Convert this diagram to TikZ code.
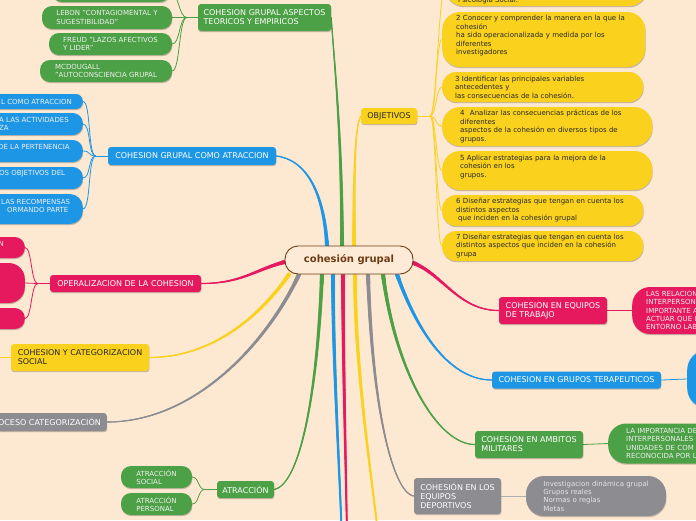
\documentclass[tikz,border=0pt]{standalone}
\usepackage{fontspec}
\setmainfont{DejaVu Sans}
\usetikzlibrary{decorations.markings,shadows}
\pgfdeclarelayer{bg}
\pgfsetlayers{bg,main}
\definecolor{bgc}{HTML}{FDE8D2}
\definecolor{gr}{HTML}{4CA045}
\definecolor{bl}{HTML}{1E96E6}
\definecolor{mg}{HTML}{E6195F}
\definecolor{ye}{HTML}{FAD21E}
\definecolor{gy}{HTML}{8C8C91}
\definecolor{brn}{HTML}{6E3C14}
\definecolor{ctr}{HTML}{FDEBD7}
\begin{document}
\begin{tikzpicture}[x=1pt,y=-1pt,
  shad/.style={drop shadow={shadow xshift=0.4pt,shadow yshift=-1.2pt,opacity=0.22,fill=black}},
  tbox/.style={rounded corners=3pt,inner sep=0pt,align=left,text=white,font=\fontsize{8}{9}\selectfont,shad},
  pill/.style={rounded corners=10pt,inner sep=0pt,align=left,text=white!94!black,font=\fontsize{7}{8.2}\selectfont,shad},
  ptext/.style={inner sep=0pt,align=left,text=white!94!black,font=\fontsize{7}{8.2}\selectfont},
  ypill/.style={fill=ye,rounded corners=14pt,inner ysep=0pt,align=left,text=black!85,font=\fontsize{7}{8.5}\selectfont,shad},
  subl/.style={line width=0.8pt,draw=#1},
  branch/.style={line width=1.1pt,draw=#1,postaction={decorate,decoration={markings,
     mark=between positions 0 and 1 step 0.7pt with {%
       \pgfmathsetmacro\rr{0.55+1.5*(1-\pgfkeysvalueof{/pgf/decoration/mark info/distance from start}/\pgfdecoratedpathlength)}%
       \fill[#1] (0,0) circle[radius=\rr pt];}}}},
]
\useasboundingbox (0,0) rectangle (696,520);

% ---------- centre ----------
\node[rounded corners=13pt,fill=ctr,draw=brn,line width=0.9pt,minimum width=128pt,minimum height=28pt,
      inner sep=0pt,text=brn,font=\fontsize{10}{12}\selectfont\bfseries] (c) at (349,260) {cohesión grupal};

% ---------- left / top main nodes ----------
\node[tbox,fill=gr,minimum width=133pt,minimum height=27pt] (asp) at (264.5,17.5) {COHESION GRUPAL ASPECTOS\\TEORICOS Y EMPIRICOS};
\node[tbox,fill=bl,minimum width=168pt,minimum height=18pt] (gca) at (192,156) {COHESION GRUPAL COMO ATRACCION};
\node[tbox,fill=mg,minimum width=151pt,minimum height=17pt] (ope) at (125.5,283.5) {OPERALIZACION DE LA COHESION};
\node[tbox,fill=ye,text=black!85,minimum width=138pt,minimum height=27pt] (cat) at (80,357.5) {COHESION Y CATEGORIZACION\\SOCIAL};
\node[tbox,fill=gy,anchor=east,inner xsep=6pt,minimum height=18pt] (pro) at (107,422) {PROCESO CATEGORIZACIÓN};
\node[tbox,fill=gr,minimum width=57pt,minimum height=17pt] (atr) at (245.5,489.5) {ATRACCIÓN};
\node[tbox,fill=ye,text=black!85,minimum width=56pt,minimum height=16pt] (obj) at (389,116) {OBJETIVOS};

% ---------- right main nodes ----------
\node[tbox,fill=mg,minimum width=108pt,minimum height=27pt] (tra) at (553,310.5) {COHESION EN EQUIPOS\\DE TRABAJO};
\node[tbox,fill=bl,minimum width=169pt,minimum height=17pt] (ter) at (576.5,380) {COHESION EN GRUPOS TERAPEUTICOS};
\node[tbox,fill=gr,minimum width=108pt,minimum height=27pt] (mil) at (529,444.5) {COHESION EN AMBITOS\\MILITARES};
\node[tbox,fill=gy,minimum width=87pt,minimum height=36pt] (eqd) at (457.5,496) {COHESIÓN EN LOS\\EQUIPOS\\DEPORTIVOS};

% ---------- green children (aspects) ----------
\node[pill,fill=gr,minimum width=118pt,minimum height=22pt] (l0) at (111,-9) {};
\node[pill,fill=gr,minimum width=130pt,minimum height=23pt] (l1) at (107,17.5) {LEBON "CONTAGIOMENTAL Y\\SUGESTIBILIDAD"};
\node[pill,fill=gr,minimum width=123pt,minimum height=22pt] (l2) at (110.5,44) {FREUD "LAZOS AFECTIVOS\\Y LIDER"};
\node[pill,fill=gr,minimum width=132pt,minimum height=22pt] (l3) at (106,71) {MCDOUGALL\\"AUTOCONSCIENCIA GRUPAL};

% ---------- blue children (cut at left) ----------
\node[pill,fill=bl,anchor=east,rounded corners=7pt,minimum width=150pt,minimum height=15pt] (b1) at (83,101.5) {};
\node[ptext,anchor=west] (b1t) at (1,101.5) {L COMO ATRACCION};
\node[pill,fill=bl,anchor=east,minimum width=150pt,minimum height=22pt] (b2) at (83,124) {};
\node[ptext,anchor=west] (b2t) at (-1,124) {A LAS ACTIVIDADES\\ZA};
\node[pill,fill=bl,anchor=east,minimum width=150pt,minimum height=22pt] (b3) at (83,151) {};
\node[ptext,anchor=west] (b3t) at (-2,147) {DE LA PERTENENCIA};
\node[pill,fill=bl,anchor=east,minimum width=150pt,minimum height=22pt] (b4) at (83,178) {};
\node[ptext,anchor=west] (b4t) at (-1,174) {OS OBJETIVOS DEL};
\node[pill,fill=bl,anchor=east,rounded corners=13pt,minimum width=150pt,minimum height=30pt] (b5) at (83,209) {};
\node[ptext,anchor=west] (b5t) at (1,206) {LAS RECOMPENSAS\\\hspace*{6pt}ORMANDO PARTE};

% ---------- magenta children (cut at left) ----------
\node[pill,fill=mg,anchor=east,minimum width=80pt,minimum height=21pt] (m1) at (25,247.5) {};
\node[ptext,anchor=west] (m1t) at (-1.5,244) {N};
\node[pill,fill=mg,anchor=east,rounded corners=16pt,minimum width=80pt,minimum height=40pt] (m2) at (25,283) {};
\node[pill,fill=mg,anchor=east,minimum width=80pt,minimum height=21pt] (m3) at (25,318.5) {};

% ---------- atraccion children ----------
\node[pill,fill=gr,minimum width=71pt,minimum height=22pt] (as1) at (156.5,477) {ATRACCIÓN\\SOCIAL};
\node[pill,fill=gr,minimum width=71pt,minimum height=22pt] (as2) at (156.5,504) {ATRACCIÓN\\PERSONAL};

% ---------- objetivos children ----------
\node[ypill,rounded corners=18pt,anchor=west,minimum width=202pt,minimum height=36pt] (y0) at (445,-12) {};
\node[inner sep=0pt,anchor=west,text=black!85,font=\fontsize{7}{8.5}\selectfont] (y0t) at (458,0) {Psicología Social.};
\node[ypill,rounded corners=18pt,anchor=west,minimum height=55pt,inner xsep=14pt,text width=175pt] (y2) at (442,39.5)
  {2 Conocer y comprender la manera en la que la\\cohesión\\ha sido operacionalizada y medida por los\\diferentes\\investigadores\\\mbox{}};
\node[ypill,anchor=west,minimum height=30pt,inner xsep=13pt,text width=175pt] (y3) at (442,87)
  {3 Identificar las principales variables\\antecedentes y\\las consecuencias de la cohesión.};
\node[ypill,rounded corners=18pt,anchor=west,minimum height=39pt,inner xsep=18pt,text width=174pt] (y4) at (442,126.5)
  {4\hspace{3pt} Analizar las consecuencias prácticas de los\\diferentes\\aspectos de la cohesión en diversos tipos de\\grupos.};
\node[ypill,rounded corners=18pt,anchor=west,minimum height=39pt,inner xsep=18pt,text width=174pt] (y5) at (442,170.5)
  {5 Aplicar estrategias para la mejora de la\\cohesión en los\\grupos.\\\mbox{}};
\node[ypill,anchor=west,minimum height=31pt,inner xsep=14pt,text width=173pt] (y6) at (442,210.5)
  {6 Diseñar estrategias que tengan en cuenta los\\distintos aspectos\\\hspace*{2pt}que inciden en la cohesión grupal};
\node[ypill,anchor=west,minimum height=30pt,inner xsep=14pt,text width=173pt] (y7) at (442,246)
  {7 Diseñar estrategias que tengan en cuenta los\\distintos aspectos que inciden en la cohesión\\grupa};

% ---------- right children ----------
\node[pill,fill=mg,rounded corners=18pt,anchor=west,minimum width=130pt,minimum height=47pt,inner xsep=14pt,text width=102pt] (rtra) at (632,310.5)
  {LAS RELACION\\INTERPERSON\\IMPORTANTE A\\ACTUAR QUE L\\ENTORNO LAB};
\node[pill,fill=bl,rounded corners=20pt,anchor=west,minimum width=130pt,minimum height=58pt] (rter) at (687,379) {};
\node[pill,fill=gr,rounded corners=18pt,anchor=west,minimum width=150pt,minimum height=40pt,inner xsep=18pt,text width=114pt] (rmil) at (608,443.5)
  {LA IMPORTANCIA DE\\INTERPERSONALES\\UNIDADES DE COM\\RECONOCIDA POR L};
\node[pill,fill=gy,rounded corners=18pt,minimum width=140pt,minimum height=40pt,text=white!90!black] (reqd) at (596,496)
  {Investigacion dinámica grupal\\Grupos reales\\Normas o reglas\\Metas};

% ---------- free ends ----------
\coordinate (catL) at (-5,357.5);
\coordinate (dn1) at (344,640);
\coordinate (dn2) at (348,640);
\coordinate (dn3) at (388,630);

\begin{pgfonlayer}{bg}
\fill[bgc] (0,0) rectangle (696,520);
% main branches (from centre outwards, tapering)
\path[branch=gr] ([xshift=-7pt]c.north) .. controls +(0,-110) and +(3,45) .. (asp.east);
\path[branch=ye] ([xshift=5pt]c.north) .. controls +(0,-80) and +(-6,12) .. (obj.west);
\path[branch=bl] ([xshift=-22pt]c.north) .. controls +(-3,-50) and +(32,4) .. (gca.east);
\path[branch=mg] ([yshift=-2pt]c.west) .. controls +(-30,8) and +(40,0) .. (ope.east);
\path[branch=ye] ([xshift=-60pt]c.south) .. controls +(-22,32) and +(70,0) .. (cat.east);
\path[branch=gy] ([xshift=-50pt]c.south) .. controls +(-30,65) and +(90,0) .. (pro.east);
\path[branch=gr] ([xshift=-27pt]c.south) .. controls +(-5,125) and +(25,-5) .. (atr.east);
\path[branch=bl] ([xshift=-16pt]c.south) .. controls +(0,120) and +(0,-120) .. (dn1);
\path[branch=mg] ([xshift=-6pt]c.south) .. controls +(0,120) and +(0,-120) .. (dn2);
\path[branch=ye] ([xshift=6pt]c.south) .. controls +(0,120) and +(-8,-110) .. (dn3);
\path[branch=gy] ([xshift=19pt]c.south) .. controls +(5,150) and +(-18,-2) .. (eqd.west);
\path[branch=gr] ([xshift=34pt]c.south) .. controls +(12,95) and +(-38,0) .. (mil.west);
\path[branch=bl] ([xshift=48pt]c.south) .. controls +(22,62) and +(-40,0) .. (ter.west);
\path[branch=mg] ([yshift=-3pt]c.east) .. controls +(30,12) and +(-40,0) .. (tra.west);

% sub-branches
\draw[subl=gr] (asp.west) -- ++(-11,0) coordinate (aj);
\draw[subl=gr] (aj) .. controls +(-8,0) and +(8,0) .. (l0.east);
\draw[subl=gr] (aj) -- (l1.east);
\draw[subl=gr] (aj) .. controls +(-8,0) and +(8,0) .. (l2.east);
\draw[subl=gr] (aj) .. controls +(-8,0) and +(8,0) .. (l3.east);

\draw[subl=bl] (gca.west) -- ++(-12,0) coordinate (bj);
\foreach \k in {b1,b2,b3,b4,b5} \draw[subl=bl] (bj) .. controls +(-8,0) and +(8,0) .. (\k.east);

\draw[subl=mg] (ope.west) -- ++(-12,0) coordinate (mj);
\foreach \k in {m1,m2,m3} \draw[subl=mg] (mj) .. controls +(-7,0) and +(7,0) .. (\k.east);

\draw[subl=ye] (cat.west) -- (catL);

\draw[subl=gr] (atr.west) -- ++(-12,0) coordinate (tj);
\foreach \k in {as1,as2} \draw[subl=gr] (tj) .. controls +(-7,0) and +(7,0) .. (\k.east);

\draw[subl=ye] (obj.east) -- ++(13,0) coordinate (oj);
\foreach \k in {y0,y2,y3,y4,y5,y6,y7} \draw[subl=ye] (oj) .. controls +(6,0) and +(-6,0) .. (\k.west);

\draw[subl=mg] (tra.east) -- (rtra.west);
\draw[subl=bl] (ter.east) -- (rter.west);
\draw[subl=gr] (mil.east) -- (rmil.west);
\draw[subl=gy!70!white] (eqd.east) -- (reqd.west);
\end{pgfonlayer}
\end{tikzpicture}
\end{document}
